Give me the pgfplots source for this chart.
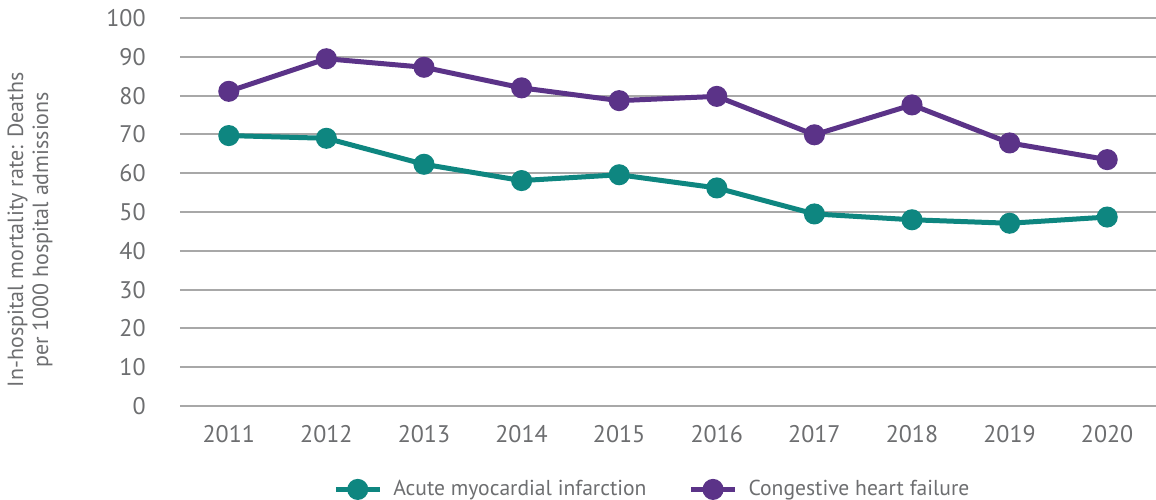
\documentclass[border=0pt]{standalone}
\usepackage{pgfplots}
\pgfplotsset{compat=1.18}
\usepackage{fontspec}
\setmainfont{PT Sans}
\usetikzlibrary{calc}

\definecolor{ami}{HTML}{0E8680}
\definecolor{chf}{HTML}{5B3388}
\definecolor{gridgray}{HTML}{A8A8A8}
\definecolor{textgray}{HTML}{6D6E70}

\begin{document}
\begin{tikzpicture}
\begin{axis}[
  name=ax,
  scale only axis,
  width=488pt, height=194pt,
  xmin=2010.5, xmax=2020.5,
  ymin=0, ymax=100,
  xtick={2011,...,2020},
  ytick={0,10,...,100},
  /pgf/number format/assume math mode=true,
  xticklabel={\pgfmathprintnumber[1000 sep=]{\tick}},
  axis line style={draw=none},
  major tick length=0pt,
  ymajorgrids,
  major grid style={gridgray, line width=1pt},
  tick label style={font=\fontsize{12}{14}\selectfont, text=textgray},
  yticklabel style={inner sep=0pt, anchor=east, xshift=-17pt},
  xticklabel style={inner sep=0pt, anchor=north, yshift=-9.5pt},
  legend columns=2,
  legend style={draw=none, fill=none, at={(0.485,-0.215)}, anchor=center,
    font=\fontsize{10.8}{13}\selectfont, text=textgray,
    /tikz/every odd column/.append style={column sep=3.5pt},
    /tikz/every even column/.append style={column sep=19pt}},
  legend image code/.code={\draw[mark repeat=2, mark phase=2, #1]
    plot coordinates {(0pt,0pt) (11pt,0pt) (22pt,0pt)};},
  clip=false,
]
\addplot[ami, line width=2.5pt, mark=*, mark size=4pt, mark options={solid}]
  coordinates {(2011,69.7) (2012,69.0) (2013,62.3) (2014,58.1) (2015,59.6)
               (2016,56.2) (2017,49.5) (2018,48.0) (2019,47.1) (2020,48.7)};
\addlegendentry{Acute myocardial infarction}
\addplot[chf, line width=2.5pt, mark=*, mark size=4pt, mark options={solid}]
  coordinates {(2011,81.1) (2012,89.5) (2013,87.3) (2014,82.0) (2015,78.7)
               (2016,79.8) (2017,69.9) (2018,77.6) (2019,67.8) (2020,63.5)};
\addlegendentry{Congestive heart failure}
\end{axis}
\node[rotate=90, align=center, text=textgray, font=\fontsize{11}{12.5}\selectfont]
  at ($(ax.south west)!0.454!(ax.north west) + (-75pt,0)$)
  {In-hospital mortality rate: Deaths\\per 1000 hospital admissions};
\pgfresetboundingbox
\path ($(ax.south west)+(-90pt,-46.5pt)$) rectangle ($(ax.north east)+(0pt,9pt)$);
\end{tikzpicture}
\end{document}
